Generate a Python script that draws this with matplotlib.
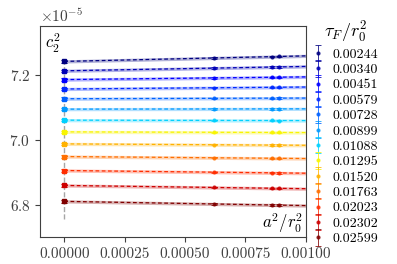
import numpy as np
import matplotlib
matplotlib.use("Agg")
import matplotlib.pyplot as plt
from matplotlib.legend_handler import HandlerErrorbar
from matplotlib.container import ErrorbarContainer

plt.rcParams['font.family'] = 'serif'
plt.rcParams['font.serif'] = ['cmr10']
plt.rcParams['mathtext.fontset'] = 'cm'
plt.rcParams['axes.formatter.use_mathtext'] = True

# flow times and continuum values (units of 1e-5)
tau_F = ['0.00244', '0.00340', '0.00451', '0.00579', '0.00728', '0.00899', '0.01088',
         '0.01295', '0.01520', '0.01763', '0.02023', '0.02302', '0.02599']
c2_cont = [7.241, 7.212, 7.185, 7.156, 7.126, 7.094, 7.060,
           7.024, 6.987, 6.948, 6.905, 6.859, 6.810]
c2_cont_err = [0.004, 0.004, 0.004, 0.004, 0.004, 0.004, 0.004,
               0.004, 0.004, 0.004, 0.004, 0.004, 0.005]
# slope of the fit in units of 1e-5 per 0.001
slope = [0.017, 0.0135, 0.0083, 0.0061, 0.0021, 0.0009, -0.0012,
         -0.0021, -0.0043, -0.0061, -0.0083, -0.010, -0.013]

# lattice data
a2 = [0.00062, 0.00086, 0.00089]
c2_a1 = [7.2515, 7.2204, 7.1901, 7.1598, 7.1273, 7.0946, 7.0593,
         7.0227, 6.9843, 6.9442, 6.8999, 6.8528, 6.8019]
c2_a2 = [7.2556, 7.2236, 7.1921, 7.1612, 7.1278, 7.0948, 7.0590,
         7.0222, 6.9833, 6.9428, 6.8979, 6.8504, 6.7988]
c2_a3 = [7.2561, 7.2240, 7.1924, 7.1614, 7.1279, 7.0948, 7.0589,
         7.0221, 6.9832, 6.9426, 6.8976, 6.8501, 6.7984]
lat_err = 0.002

cpos = [0.0, 0.05, 0.11, 0.165, 0.22, 0.275, 0.33, 0.65, 0.72, 0.79, 0.86, 0.93, 1.0]
colors = plt.cm.jet(cpos)

fig = plt.figure(figsize=(3.97, 2.64), dpi=100)
ax = fig.add_axes([0.101, 0.102, 0.669, 0.7995])

xfit = np.linspace(0, 0.001, 50)
ax.plot([0, 0], [6.757e-5, 7.251e-5], ls='--', color='gray', lw=1, alpha=0.7, zorder=1)
for i in range(len(tau_F)):
    c = colors[i]
    yfit = (c2_cont[i] + slope[i] * xfit / 0.001) * 1e-5
    ax.fill_between(xfit, yfit - 0.005e-5, yfit + 0.005e-5, color=c, alpha=0.3, lw=0)
    ax.plot(xfit, yfit, ls=(0, (3, 2)), color=c, lw=0.9)
    ylat = np.array([c2_a1[i], c2_a2[i], c2_a3[i]]) * 1e-5
    ax.errorbar(a2, ylat, yerr=lat_err * 1e-5, fmt='o', ms=2, color=c,
                capsize=2.5, elinewidth=0.7, capthick=0.7, alpha=0.8, label=tau_F[i])
    ax.errorbar([0], [c2_cont[i] * 1e-5], yerr=c2_cont_err[i] * 1e-5, fmt='s', ms=2.5,
                color=c, capsize=2.5, elinewidth=0.7, capthick=0.7)

ax.set_xlim(-0.0001, 0.001)
ax.set_ylim(6.70e-5, 7.35e-5)
ax.set_xticks([0, 0.00025, 0.0005, 0.00075, 0.001])
ax.set_xticklabels(['0.00000', '0.00025', '0.00050', '0.00075', '0.00100'])
ax.set_yticks([6.8e-5, 7.0e-5, 7.2e-5])
ax.tick_params(labelsize=11, colors='0.25')
for s in ax.spines.values():
    s.set_color('0.25')
ax.yaxis.get_offset_text().set_fontsize(11)
ax.yaxis.get_offset_text().set_color('0.25')

ax.text(0.02, 0.97, r'$c_2^2$', transform=ax.transAxes, fontsize=12, va='top', ha='left')
ax.text(0.99, 0.01, r'$a^2/r_0^2$', transform=ax.transAxes, fontsize=12, va='bottom', ha='right')

leg = ax.legend(loc='upper left', bbox_to_anchor=(0.99, 1.075), frameon=False, fontsize=10,
                title=r'$\tau_F/r_0^2$', title_fontsize=13, handlelength=0.8,
                handletextpad=0.6, labelspacing=0.19, borderaxespad=0.3,
                handler_map={ErrorbarContainer: HandlerErrorbar(yerr_size=0.6)})

fig.savefig('out.png', dpi=100)
